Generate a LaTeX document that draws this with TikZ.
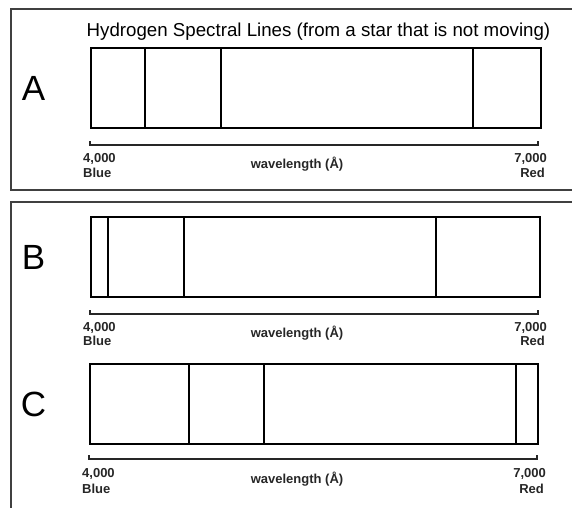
\documentclass[tikz,border=0pt]{standalone}
\usepackage{fontspec}
\setmainfont{Liberation Sans}
\begin{document}
\begin{tikzpicture}[x=1pt,y=-1pt,
  frame/.style={draw=black!75,line width=1.2pt},
  specbox/.style={draw=black,line width=1.3pt},
  specline/.style={draw=black,line width=2.8pt},
  axisline/.style={draw=black!85,line width=1.1pt},
  letter/.style={font=\fontsize{35}{35}\selectfont,anchor=center},
  small/.style={font=\fontsize{13}{14}\selectfont\bfseries,inner sep=0pt,text=black!85}]
\useasboundingbox (0,0) rectangle (572,508);
% frames
\draw[frame] (572,9) -- (11,9) -- (11,190) -- (572,190);
\draw[frame] (572,202) -- (11,202) -- (11,508);
% title
\node[font=\fontsize{18.7}{19}\selectfont,anchor=base,inner sep=0pt] (title) at (318.5,37) {Hydrogen Spectral Lines (from a star that is not moving)};
% A
\node[letter] (la) at (33.5,88.5) {A};
\draw[specbox] (91,48) rectangle (541,128);
\foreach \xx in {145,221,473} \draw[specline] (\xx,48) -- (\xx,128);
\draw[axisline] (90,141) -- (90,145) -- (538,145) -- (538,141);
\node[small,anchor=base west] (a1) at (83,162) {4,000};
\node[small,anchor=base west] (a2) at (83,177) {Blue};
\node[small,anchor=base] (a3) at (297,168) {wavelength (Å)};
\node[small,anchor=base east] (a4) at (547,162) {7,000};
\node[small,anchor=base east] (a5) at (545,177) {Red};
% B
\node[letter] (lb) at (33.5,257) {B};
\draw[specbox] (91,217) rectangle (540,297);
\foreach \xx in {108,184,436} \draw[specline] (\xx,217) -- (\xx,297);
\draw[axisline] (90,310) -- (90,314) -- (538,314) -- (538,310);
\node[small,anchor=base west] (b1) at (83,331) {4,000};
\node[small,anchor=base west] (b2) at (83,345) {Blue};
\node[small,anchor=base] (b3) at (297,337) {wavelength (Å)};
\node[small,anchor=base east] (b4) at (547,331) {7,000};
\node[small,anchor=base east] (b5) at (545,345) {Red};
% C
\node[letter] (lc) at (33.5,404) {C};
\draw[specbox] (90,364) rectangle (538,444);
\foreach \xx in {189,264,516} \draw[specline] (\xx,364) -- (\xx,444);
\draw[axisline] (89,455) -- (89,459) -- (537,459) -- (537,455);
\node[small,anchor=base west] (c1) at (82,477) {4,000};
\node[small,anchor=base west] (c2) at (82,493) {Blue};
\node[small,anchor=base] (c3) at (297,483) {wavelength (Å)};
\node[small,anchor=base east] (c4) at (546,477) {7,000};
\node[small,anchor=base east] (c5) at (544,493) {Red};
\end{tikzpicture}
\end{document}
